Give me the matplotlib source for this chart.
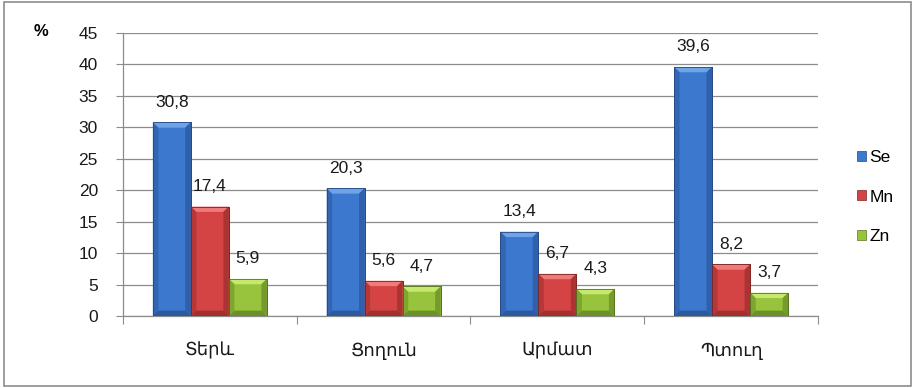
import matplotlib.pyplot as plt
import matplotlib.patches as mpatches
import numpy as np

# ── Datos ──
categorias = ['Տերև', 'Ցողուն', 'Արմատ', 'Պտուղ']
series = ['Se', 'Mn', 'Zn']
se_vals = [30.8, 20.3, 13.4, 39.6]
mn_vals = [17.4, 5.6, 6.7, 8.2]
zn_vals = [5.9, 4.7, 4.3, 3.7]
etiquetas_y = [0, 5, 10, 15, 20, 25, 30, 35, 40, 45]

# cara, bisel claro, lados oscuros, borde
colores = ['#3B78CE', '#D44444', '#97C43C']
claros = ['#6FA3E8', '#EE7A7A', '#C6E86E']
oscuros = ['#2C5AA0', '#A32F2F', '#6C9127']
bordes = ['#234A85', '#7F2424', '#56741F']

plt.rcParams['font.family'] = ['Liberation Sans', 'DejaVu Sans']

fig = plt.figure(figsize=(9.15, 3.88), dpi=100)
ax = fig.add_axes([0.1344, 0.1856, 0.7596, 0.7294])

# ── Borde exterior ──
fig.add_artist(mpatches.Rectangle((0.004, 0.006), 0.992, 0.988, transform=fig.transFigure,
                                  fill=False, edgecolor='#8C8C8C', linewidth=1.2))

ax.set_xlim(-0.5, 3.5)
ax.set_ylim(0, 45)

x = np.arange(len(categorias))
ancho = 0.219
bx = 0.032  # bisel horizontal (unidades de datos)
by = 0.85   # bisel vertical

for i, vals in enumerate([se_vals, mn_vals, zn_vals]):
    pos = x + (i - 1) * ancho
    barras = ax.bar(pos, vals, width=ancho, color=colores[i], edgecolor=bordes[i],
                    linewidth=0.6, zorder=3)
    # efecto bisel sobre cada barra
    for b in barras:
        x0, y0 = b.get_x(), b.get_y()
        w, h = b.get_width(), b.get_height()
        byy = min(by, h / 2.2)
        ax.add_patch(mpatches.Polygon([(x0, y0 + h), (x0 + w, y0 + h),
                                       (x0 + w - bx, y0 + h - byy), (x0 + bx, y0 + h - byy)],
                                      facecolor=claros[i], edgecolor='none', zorder=4))
        ax.add_patch(mpatches.Polygon([(x0, y0), (x0 + bx, y0 + byy),
                                       (x0 + bx, y0 + h - byy), (x0, y0 + h)],
                                      facecolor=oscuros[i], edgecolor='none', zorder=4, alpha=0.6))
        ax.add_patch(mpatches.Polygon([(x0 + w, y0), (x0 + w - bx, y0 + byy),
                                       (x0 + w - bx, y0 + h - byy), (x0 + w, y0 + h)],
                                      facecolor=oscuros[i], edgecolor='none', zorder=4, alpha=0.8))
        ax.add_patch(mpatches.Polygon([(x0, y0), (x0 + w, y0),
                                       (x0 + w - bx, y0 + byy), (x0 + bx, y0 + byy)],
                                      facecolor=oscuros[i], edgecolor='none', zorder=4))
        ax.add_patch(mpatches.Rectangle((x0, y0), w, h, fill=False, edgecolor=bordes[i],
                                        linewidth=0.6, zorder=5))
    for px, v in zip(pos, vals):
        ax.annotate(f'{v:.1f}'.replace('.', ','), (px, v), textcoords='offset points',
                    xytext=(0, 9), ha='center', va='bottom', fontsize=12.5, color='#1a1a1a')

# ── Ejes ──
ax.set_yticks(etiquetas_y)
ax.set_yticklabels([str(t) for t in etiquetas_y], fontsize=12.5, color='#1a1a1a')
ax.tick_params(axis='y', length=5, width=0.8, color='#8C8C8C', pad=13)
ax.yaxis.grid(True, color='#8C8C8C', linewidth=0.9, zorder=0)
ax.set_axisbelow(True)

ax.set_xticks(np.arange(-0.5, 4.0, 1.0))
ax.set_xticklabels([])
ax.tick_params(axis='x', which='major', length=6, width=0.8, color='#8C8C8C')
ax.set_xticks(x, minor=True)
ax.set_xticklabels(categorias, minor=True, fontsize=13, color='#1a1a1a')
ax.tick_params(axis='x', which='minor', length=0, pad=19)

for s in ['top', 'right']:
    ax.spines[s].set_visible(False)
for s in ['left', 'bottom']:
    ax.spines[s].set_color('#8C8C8C')
    ax.spines[s].set_linewidth(0.9)

fig.text(0.045, 0.918, '%', fontsize=12, fontweight='bold', ha='center', va='center')

# ── Leyenda ──
handles = [mpatches.Patch(facecolor=c, edgecolor=b, linewidth=0.5, label=s)
           for c, b, s in zip(colores, bordes, series)]
fig.legend(handles=handles, loc='center left', bbox_to_anchor=(0.929, 0.492),
           frameon=False, fontsize=12.5, handlelength=0.5, handleheight=0.5,
           handletextpad=0.2, labelspacing=1.4, borderaxespad=0)

fig.savefig('out.png', dpi=100)
